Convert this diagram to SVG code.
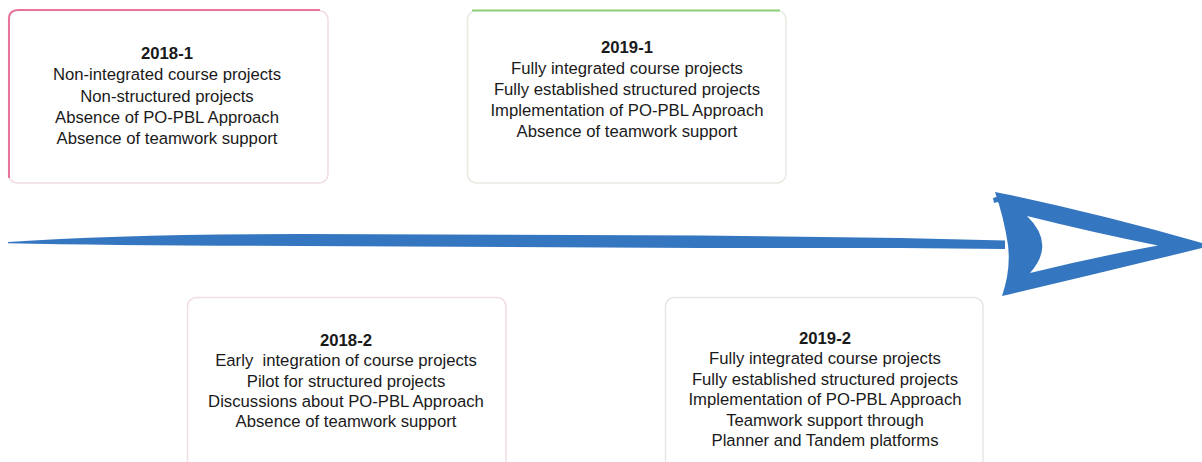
<svg xmlns="http://www.w3.org/2000/svg" width="1202" height="462" viewBox="0 0 1202 462">
  <style>
    .box { fill: #ffffff; stroke-width: 1.5; }
    .t { font-family: "Liberation Sans", Arial, sans-serif; font-size: 16.7px; fill: #1a1a1a; text-anchor: middle; }
    .h { font-weight: bold; }
    .arrow { fill: #3576c0; }
  </style>
  <rect width="1202" height="462" fill="#ffffff"/>

  <g id="connectors">
    <path class="arrow" d="M 8 242 Q 120 234 300 234 L 700 235.5 L 900 238 L 1005 240.5 L 1005 249 L 900 248 L 700 248 L 300 246 Q 120 245.5 8 243.2 Z"/>
    <path class="arrow" fill-rule="evenodd" d="M 995 192 L 1005 194 Q 1100 214 1202 243 L 1202 248 Q 1100 273 1002 296 Q 1011 270 1008 245 Q 1004 218 995 192 Z M 1027 216 Q 1056 244 1030 273 Q 1095 257 1158 245.5 Q 1095 233 1027 216 Z"/>
    <path class="arrow" d="M 993 198 Q 1000 195 1009 197 L 1007 203 Q 999 201 994 203 Z"/>
  </g>

  <g id="node-2018-1">
    <rect class="box" x="8.5" y="10.5" width="319.5" height="172.5" rx="9" stroke="#f1dde3"/>
    <path d="M 9 178 L 9 19 Q 9 10 18 10 L 320 10" fill="none" stroke="#e8739d" stroke-width="2"/>
    <text class="t h" x="167" y="59">2018-1</text>
    <text class="t" x="167" y="80">Non-integrated course projects</text>
    <text class="t" x="167" y="101.5">Non-structured projects</text>
    <text class="t" x="167" y="122.5">Absence of PO-PBL Approach</text>
    <text class="t" x="167" y="144">Absence of teamwork support</text>
  </g>

  <g id="node-2019-1">
    <rect class="box" x="467.5" y="10.5" width="318.5" height="172.5" rx="9" stroke="#e7ece3"/>
    <path d="M 472 10.5 L 780 10.5" fill="none" stroke="#8ccf78" stroke-width="2"/>
    <text class="t h" x="627" y="53">2019-1</text>
    <text class="t" x="627" y="74">Fully integrated course projects</text>
    <text class="t" x="627" y="94.7">Fully established structured projects</text>
    <text class="t" x="627" y="115.5">Implementation of PO-PBL Approach</text>
    <text class="t" x="627" y="136.5">Absence of teamwork support</text>
  </g>

  <g id="node-2018-2">
    <rect class="box" x="187.5" y="297.5" width="318.5" height="190" rx="9" stroke="#f2dde1"/>
    <text class="t h" x="346" y="346">2018-2</text>
    <text class="t" x="346" y="366" xml:space="preserve">Early  integration of course projects</text>
    <text class="t" x="346" y="386.7">Pilot for structured projects</text>
    <text class="t" x="346" y="407.3">Discussions about PO-PBL Approach</text>
    <text class="t" x="346" y="427.3">Absence of teamwork support</text>
  </g>

  <g id="node-2019-2">
    <rect class="box" x="665.5" y="297.5" width="317.5" height="190" rx="9" stroke="#e6e6e6"/>
    <text class="t h" x="825" y="344">2019-2</text>
    <text class="t" x="825" y="364">Fully integrated course projects</text>
    <text class="t" x="825" y="385">Fully established structured projects</text>
    <text class="t" x="825" y="405.3">Implementation of PO-PBL Approach</text>
    <text class="t" x="825" y="426">Teamwork support through</text>
    <text class="t" x="825" y="446">Planner and Tandem platforms</text>
  </g>
</svg>
